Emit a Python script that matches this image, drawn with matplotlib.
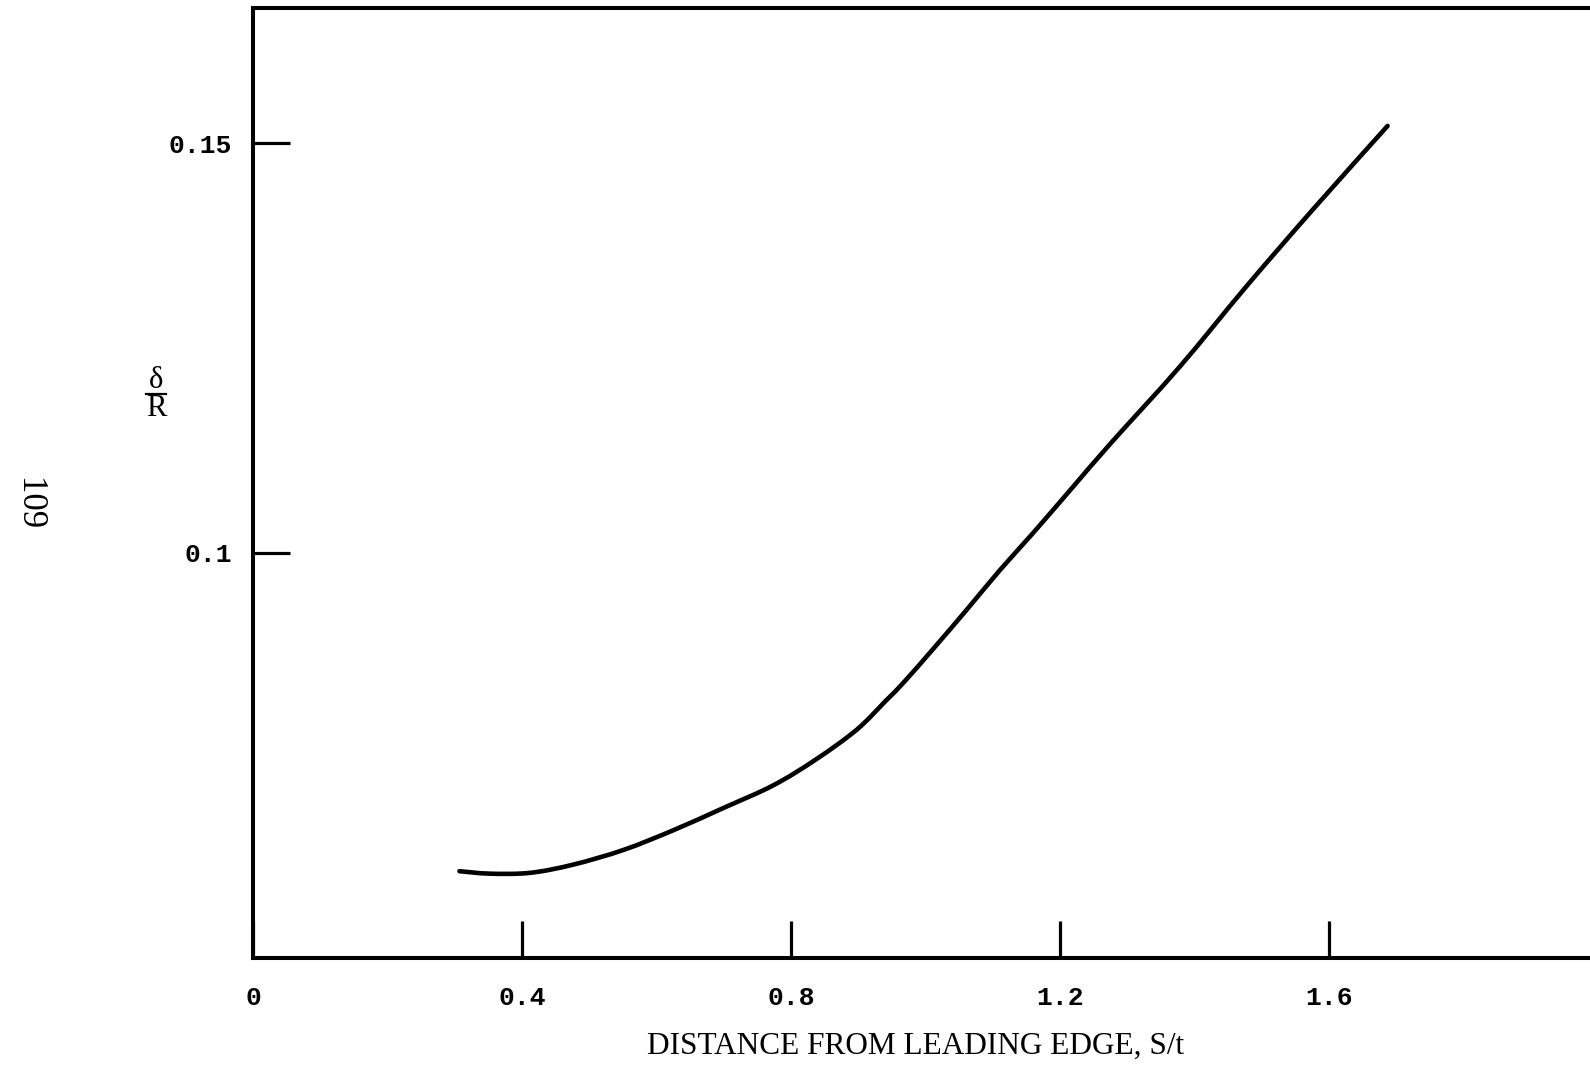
import matplotlib
matplotlib.use("Agg")
import matplotlib.pyplot as plt
from matplotlib.path import Path
from matplotlib.patches import PathPatch
import numpy as np

# Boundary-layer thickness ratio along the surface
s_over_t = [0.307, 0.352, 0.412, 0.476, 0.551, 0.625, 0.699, 0.774, 0.838,
            0.898, 0.942, 0.967, 1.012, 1.061, 1.111, 1.160, 1.220, 1.277,
            1.378, 1.477, 1.576, 1.687]
delta_over_r = [0.0611, 0.0608, 0.0609, 0.0619, 0.0637, 0.0661, 0.0688,
                0.0716, 0.0748, 0.0784, 0.0820, 0.0841, 0.0883, 0.0930,
                0.0979, 0.1024, 0.1081, 0.1135, 0.1227, 0.1325, 0.1419,
                0.1521]

x_ticks = [0, 0.4, 0.8, 1.2, 1.6]
x_tick_labels = ["0", "0.4", "0.8", "1.2", "1.6"]
y_ticks = [0.1, 0.15]
y_tick_labels = ["0.1", "0.15"]


def smooth_path(xs, ys):
    """Cubic Bezier path passing through every point (Catmull-Rom handles)."""
    p = np.column_stack([xs, ys])
    n = len(p)
    verts = [p[0]]
    codes = [Path.MOVETO]
    for i in range(n - 1):
        p0 = p[i - 1] if i > 0 else p[i]
        p1, p2 = p[i], p[i + 1]
        p3 = p[i + 2] if i + 2 < n else p[i + 1]
        c1 = p1 + (p2 - p0) / 6.0
        c2 = p2 - (p3 - p1) / 6.0
        verts += [c1, c2, p2]
        codes += [Path.CURVE4] * 3
    return Path(verts, codes)


W, H = 1590, 1070
fig = plt.figure(figsize=(W / 100, H / 100), dpi=100)
left_px, right_px, top_px, bottom_px = 253, 1590, 8, 958
ax = fig.add_axes([left_px / W, 1 - bottom_px / H,
                   (right_px - left_px) / W, (bottom_px - top_px) / H])

ax.add_patch(PathPatch(smooth_path(s_over_t, delta_over_r), facecolor="none",
                       edgecolor="black", lw=3.3, capstyle="round",
                       joinstyle="round"))

ax.set_xlim(0, 1.988)
ax.set_ylim(0.0505, 0.1665)

for side in ("left", "bottom", "top"):
    ax.spines[side].set_linewidth(2.9)
    ax.spines[side].set_color("black")
ax.spines["right"].set_visible(False)

ax.set_xticks(x_ticks)
ax.set_xticklabels(x_tick_labels)
ax.set_yticks(y_ticks)
ax.set_yticklabels(y_tick_labels)
ax.tick_params(axis="both", direction="in", length=26.5, width=2.3,
               color="black")
ax.tick_params(axis="x", pad=20)
ax.tick_params(axis="y", pad=15)
for lab in ax.get_xticklabels() + ax.get_yticklabels():
    lab.set_fontfamily("Liberation Mono")
    lab.set_fontsize(19)
    lab.set_fontweight("bold")

# Axis titles
fig.text(916 / W, 1 - 1046 / H, "DISTANCE FROM LEADING EDGE, S/t",
         family="Liberation Serif", fontsize=22.5, ha="center", va="center")

# delta over R, stacked as a fraction
fig.text(156 / W, 1 - 381 / H, "δ", family="Liberation Serif",
         fontsize=22, ha="center", va="center")
fig.text(156 / W, 1 - 409 / H, "R", family="Liberation Serif",
         fontsize=22, ha="center", va="center")
fig.add_artist(plt.Line2D([146 / W, 166 / W], [1 - 394 / H, 1 - 394 / H],
                          color="black", lw=1.6))

# Page number
fig.text(28 / W, 1 - 504 / H, "109", family="Liberation Serif",
         fontsize=25, rotation=-90, ha="center", va="center")

fig.savefig("out.png", dpi=100, facecolor="white")
